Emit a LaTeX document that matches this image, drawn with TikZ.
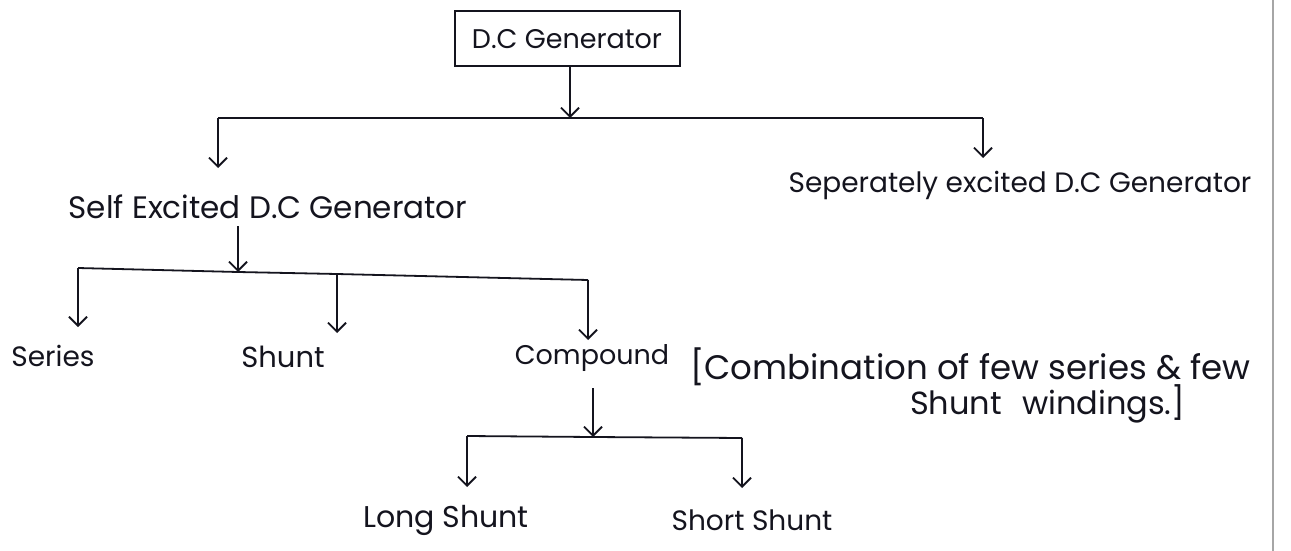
\documentclass[tikz,border=0pt]{standalone}
\usepackage{fontspec}
\setmainfont{Poppins}
\usetikzlibrary{arrows.meta}
\definecolor{ink}{RGB}{20,20,30}
\tikzset{
  lbl/.style={inner sep=0pt, text=ink, font=\fontsize{24}{28}\selectfont},
  big/.style={font=\fontsize{30}{34}\selectfont},
  boxed/.style={draw=ink, line width=2pt, inner sep=0pt, minimum width=225pt, minimum height=55pt, text=ink, font=\fontsize{27}{30}\selectfont},
  wire/.style={draw=ink, line width=1.8pt},
  arr/.style={wire, -{Straight Barb[length=9pt,width=18pt,line width=1.8pt]}},
}
\begin{document}
\begin{tikzpicture}[x=1pt,y=-1pt]
\useasboundingbox[fill=white] (0,0) rectangle (1291,551);
% page margin line
\draw[gray!70, line width=1.2pt] (1273,0) -- (1273,551);

% nodes
\node[boxed] (top) at (567,39) {D.C Generator};
\node[lbl, font=\fontsize{31}{34}\selectfont] (self) at (268,207) {Self Excited D.C Generator};
\node[lbl, font=\fontsize{28}{32}\selectfont] (sep) at (1020,185) {Seperately excited D.C Generator};
\node[lbl, font=\fontsize{28}{32}\selectfont] (series) at (53,356) {Series};
\node[lbl, font=\fontsize{29}{32}\selectfont] (shunt) at (283,357) {Shunt};
\node[lbl, font=\fontsize{27}{30}\selectfont] (comp) at (592,358) {Compound};
\node[lbl, anchor=west, font=\fontsize{34}{38}\selectfont] (combo) at (690,367) {[Combination of few series \& few};
\node[lbl, anchor=west, font=\fontsize{32}{36}\selectfont] (combo2) at (910,404) {Shunt\hspace{20pt}windings.]};
\node[lbl, big] (long) at (446,520) {Long Shunt};
\node[lbl, font=\fontsize{28}{32}\selectfont] (short) at (752,520) {Short Shunt};

% junction coordinates
\coordinate (j1) at (570,118);
\coordinate (j1l) at (218,118);
\coordinate (j1r) at (983,118);
\coordinate (j2) at (238,272);
\coordinate (j2l) at (78,268);
\coordinate (j2m) at (337,274);
\coordinate (j2r) at (588,280);
\coordinate (j3) at (593,437);
\coordinate (j3l) at (467,436);
\coordinate (j3r) at (742,438);

% level 1
\draw[arr] (top.south -| j1) -- (j1);
\draw[wire] (j1l) -- (j1r);
\draw[arr] (j1l) -- (218,168);
\draw[arr] (j1r) -- (983,158);

% level 2
\draw[arr] (238,226) -- (j2);
\draw[wire] (j2l) -- (j2) -- (j2m) -- (j2r);
\draw[arr] (j2l) -- (78,327);
\draw[arr] (j2m) -- (337,333);
\draw[arr] (j2r) -- (588,340);

% level 3
\draw[arr] (593,388) -- (j3);
\draw[wire] (j3l) -- (j3) -- (j3r);
\draw[arr] (j3l) -- (467,487);
\draw[arr] (j3r) -- (742,488);
\end{tikzpicture}
\end{document}
